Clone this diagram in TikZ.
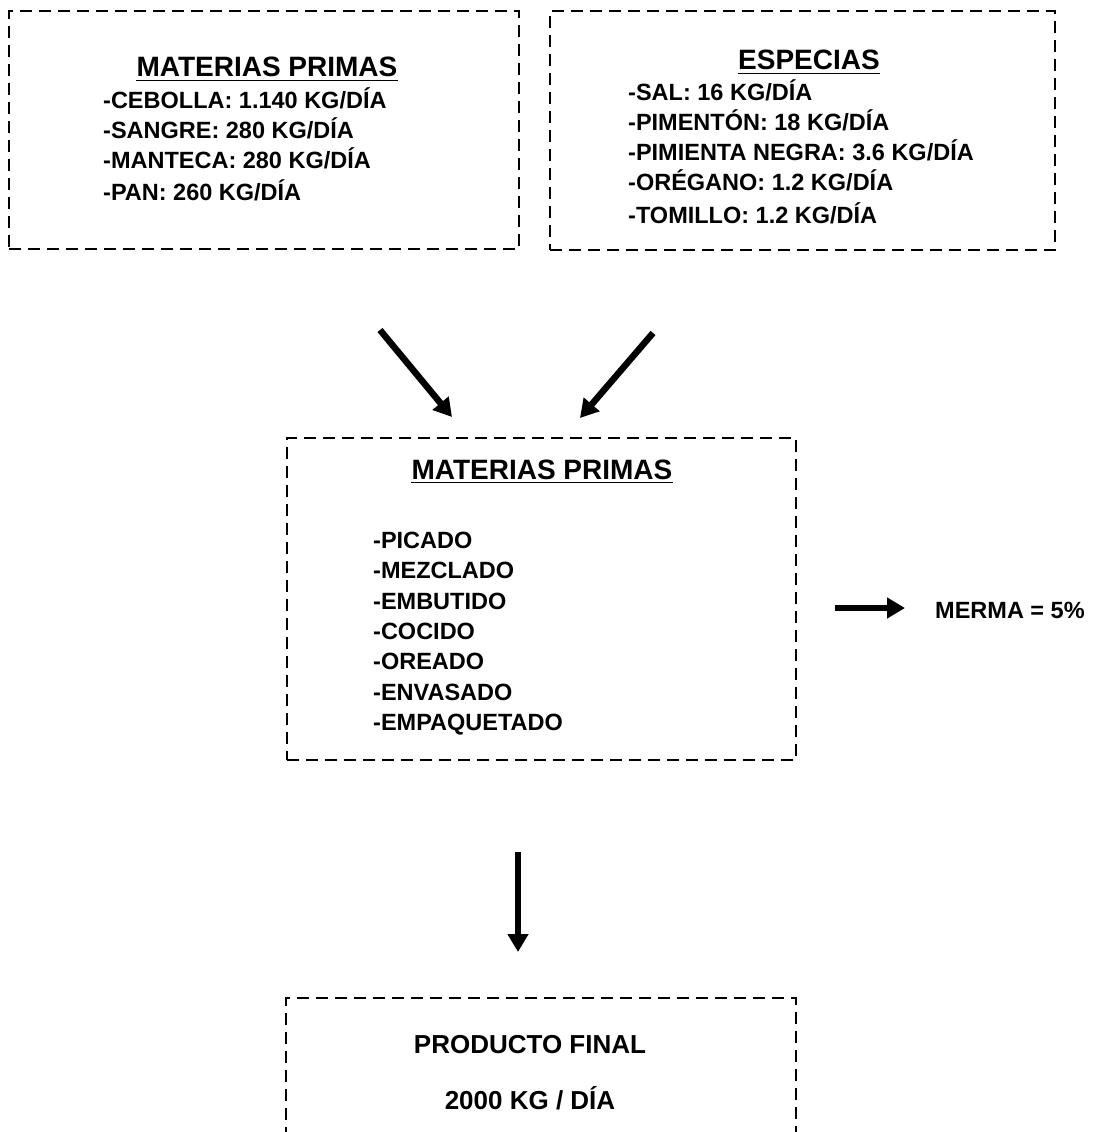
\documentclass[tikz,border=0pt]{standalone}
\usepackage{fontspec}
\setmainfont{Liberation Sans}
\usetikzlibrary{arrows.meta}
\tikzset{
  dbox/.style={draw, line width=2.4pt, dash pattern=on 12pt off 7pt, inner sep=0pt, anchor=north west},
  ttl/.style={font=\fontsize{28}{30}\selectfont\bfseries, inner sep=0pt, anchor=base},
  itm/.style={font=\fontsize{23.5}{26}\selectfont\bfseries, inner sep=0pt, anchor=base west},
  uline/.style={line width=1.8pt},
  arr/.style={line width=6.5pt, -{Triangle[length=18pt,width=20pt]}}
}
\begin{document}
\begin{tikzpicture}[x=1pt,y=-1pt]
\useasboundingbox (0,0) rectangle (1092,1132);
\clip (0,0) rectangle (1092,1132);
% boxes
\node[dbox, minimum width=510pt, minimum height=238pt] (b1) at (8,10) {};
\node[dbox, minimum width=505pt, minimum height=239pt] (b2) at (549,10) {};
\node[dbox, minimum width=509pt, minimum height=322pt] (b3) at (286,437) {};
\node[dbox, minimum width=510pt, minimum height=200pt] (b4) at (285,997) {};
% box 1
\node[ttl] (t1) at (267,77) {MATERIAS PRIMAS};
\draw[uline] ([yshift=-3.5pt]t1.base west) -- ([yshift=-3.5pt]t1.base east);
\node[itm] (a1) at (103,108) {-CEBOLLA: 1.140 KG/DÍA};
\node[itm] (a2) at (103,138) {-SANGRE: 280 KG/DÍA};
\node[itm] (a3) at (103,168) {-MANTECA: 280 KG/DÍA};
\node[itm] (a4) at (103,200) {-PAN: 260 KG/DÍA};
% box 2
\node[ttl] (t2) at (809,70) {ESPECIAS};
\draw[uline] ([yshift=-3.5pt]t2.base west) -- ([yshift=-3.5pt]t2.base east);
\node[itm] (e1) at (628,100) {-SAL: 16 KG/DÍA};
\node[itm] (e2) at (628,130) {-PIMENTÓN: 18 KG/DÍA};
\node[itm] (e3) at (628,160) {-PIMIENTA NEGRA: 3.6 KG/DÍA};
\node[itm] (e4) at (628,190) {-ORÉGANO: 1.2 KG/DÍA};
\node[itm] (e5) at (628,223) {-TOMILLO: 1.2 KG/DÍA};
% box 3
\node[ttl] (t3) at (542,479) {MATERIAS PRIMAS};
\draw[uline] ([yshift=-3.5pt]t3.base west) -- ([yshift=-3.5pt]t3.base east);
\node[itm] (p1) at (373,548) {-PICADO};
\node[itm] (p2) at (373,578) {-MEZCLADO};
\node[itm] (p3) at (373,609) {-EMBUTIDO};
\node[itm] (p4) at (373,639) {-COCIDO};
\node[itm] (p5) at (373,669) {-OREADO};
\node[itm] (p6) at (373,700) {-ENVASADO};
\node[itm] (p7) at (373,730) {-EMPAQUETADO};
% merma
\node[itm] (m) at (935,618) {MERMA = 5\%};
% box 4
\node[ttl, font=\fontsize{26}{28}\selectfont\bfseries] (f1) at (530,1053) {PRODUCTO FINAL};
\node[ttl, font=\fontsize{26}{28}\selectfont\bfseries] (f2) at (530,1109) {2000 KG / DÍA};
% arrows
\coordinate (la) at (380,330);
\coordinate (lb) at (452,417);
\coordinate (ra) at (653,333);
\coordinate (rb) at (580,418);
\coordinate (da) at (518,852);
\coordinate (db) at (518,952);
\coordinate (ma) at (835,608);
\coordinate (mb) at (905,608);
\draw[arr] (la) -- (lb);
\draw[arr] (ra) -- (rb);
\draw[arr] (da) -- (db);
\draw[arr] (ma) -- (mb);
\end{tikzpicture}
\end{document}
